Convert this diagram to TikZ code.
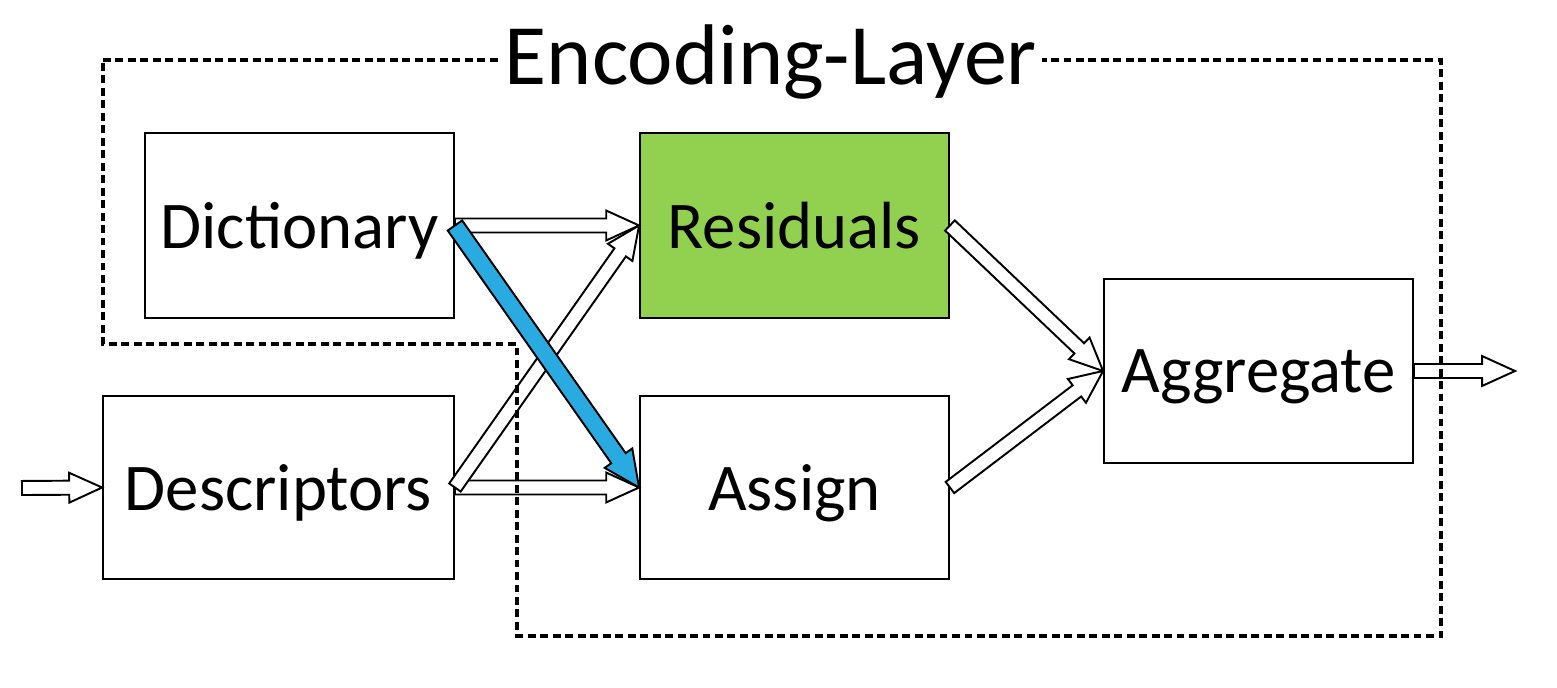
\documentclass[tikz,border=0pt]{standalone}
\usepackage{fontspec}
\setmainfont{Carlito}
\usetikzlibrary{calc}

\definecolor{resgreen}{HTML}{92D050}
\definecolor{dictblue}{HTML}{29ABE2}

\newcommand{\fatarrow}[6]{%
  \path (#5) coordinate (fa-s) (#6) coordinate (fa-e);
  \path ($(fa-e)!#4!(fa-s)$) coordinate (fa-b);
  \draw[#1] ($(fa-s)!#2!90:(fa-e)$) -- ($(fa-b)!#2!-90:(fa-s)$) -- ($(fa-b)!#3!-90:(fa-s)$) -- (fa-e)
    -- ($(fa-b)!#3!90:(fa-s)$) -- ($(fa-b)!#2!90:(fa-s)$) -- ($(fa-s)!#2!-90:(fa-e)$) -- cycle;
}

\tikzset{
  blk/.style={draw, line width=1.1pt, minimum width=6.18cm, minimum height=3.7cm, text depth=0pt, font=\fontsize{38}{42}\selectfont},
  fat/.style={draw, fill=white, line width=1.1pt, line join=miter},
  layer/.style={line width=2.1pt, dash pattern=on 4.5pt off 2.6pt}
}

\begin{document}
\begin{tikzpicture}[x=0.02cm, y=-0.02cm]
    \useasboundingbox (0,0) rectangle (1557,688);
    \node[blk] (dict) at (299.5,225.5) {Dictionary};
    \node[blk, fill=resgreen] (resid) at (794.5,225.5) {Residuals};
    \node[blk, minimum width=7.02cm, minimum height=3.66cm] (desc) at (278.5,487.5) {Descriptors};
    \node[blk, minimum height=3.66cm] (assign) at (794.5,487.5) {Assign};
    \node[blk, minimum height=3.68cm] (aggr) at (1258.5,371) {Aggregate};
    \coordinate (in) at (22,488);
    \coordinate (out) at (1515,371);
    \fatarrow{fat}{4pt}{8.5pt}{18.7pt}{in}{desc.west}
    \fatarrow{fat}{4pt}{8.5pt}{18.7pt}{dict.east}{resid.west}
    \fatarrow{fat}{4pt}{8.5pt}{18.7pt}{desc.east}{assign.west}
    \fatarrow{fat}{4pt}{8.5pt}{18.7pt}{desc.east}{resid.west}
    \fatarrow{fat, fill=dictblue}{5pt}{9.6pt}{20.4pt}{dict.east}{assign.west}
    \fatarrow{fat}{4pt}{8.5pt}{18.7pt}{resid.east}{aggr.west}
    \fatarrow{fat}{4pt}{8.5pt}{18.7pt}{assign.east}{aggr.west}
    \fatarrow{fat}{4pt}{8.5pt}{18.7pt}{aggr.east}{out}
    \draw[layer] (103,60) -- (1441,60) -- (1441,636) -- (517,636) -- (517,344) -- (103,344) -- cycle;
    \node[fill=white, inner xsep=3pt, inner ysep=0pt, anchor=base, font=\fontsize{49}{53}\selectfont] (title) at (771,85) {Encoding-Layer};
\end{tikzpicture}
\end{document}
